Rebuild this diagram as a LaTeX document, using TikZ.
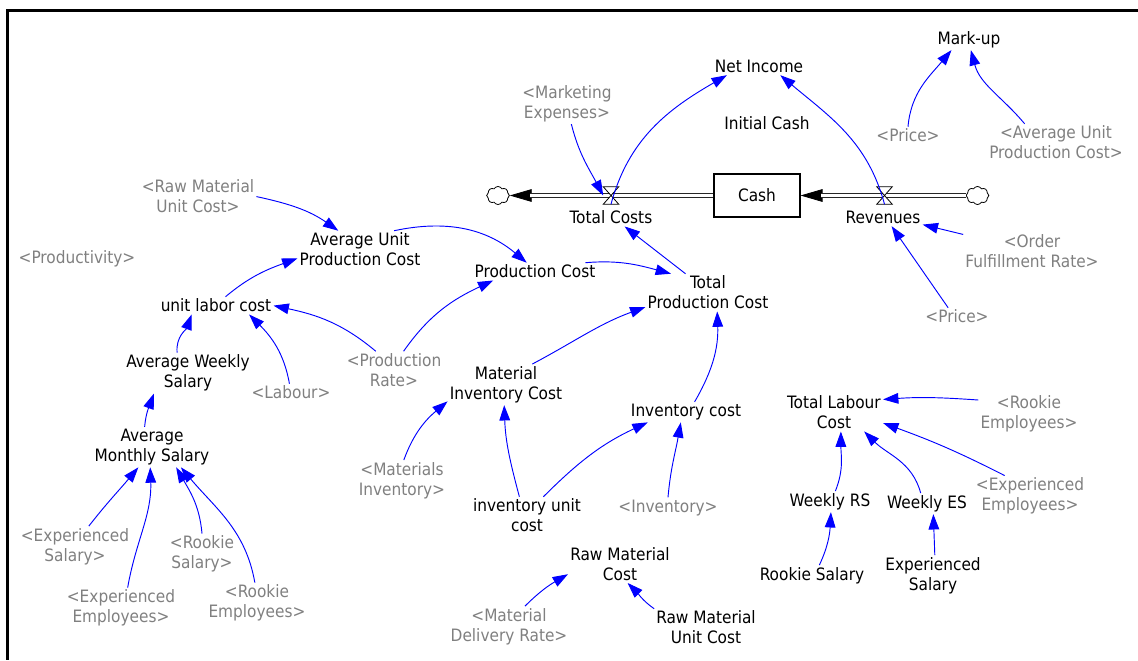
\documentclass[tikz,border=0pt]{standalone}
\usepackage{fontspec}
\IfFontExistsTF{DejaVu Sans Condensed}
  {\setmainfont{DejaVu Sans Condensed}}
  {\setmainfont{DejaVu Sans}[FakeStretch=0.9]}
\usetikzlibrary{arrows.meta,shapes.symbols}
\definecolor{linkblue}{RGB}{0,0,255}
\definecolor{shadowgray}{RGB}{128,128,128}
\begin{document}
\begin{tikzpicture}[x=0.75pt,y=0.75pt,
  every node/.style={font=\fontsize{12.8}{15}\selectfont, inner sep=1.5pt, align=center},
  var/.style={text=black, yshift=-1.2pt},
  ghost/.style={text=shadowgray, yshift=-1.2pt},
  stock/.style={draw, line width=0.8pt, minimum width=64.5pt, minimum height=32.25pt},
  valvebox/.style={inner sep=0pt, minimum width=11.25pt, minimum height=12.75pt},
  valveline/.style={draw=black, fill=white, line width=0.6pt, line join=miter},
  sourcecloud/.style={cloud, cloud puffs=8, cloud puff arc=120, aspect=1.25, draw, fill=white,
    line width=0.6pt, inner sep=0pt, minimum width=17pt, minimum height=13.5pt},
  pipe/.style={draw=black!85, line width=0.7pt, double=white, double distance=2.2pt},
  flowtip/.style={draw=black, line width=0.6pt, -{Triangle[length=16.5pt,width=9.5pt]}},
  conn/.style={draw=linkblue, line width=0.7pt, -{Triangle[length=11.5pt,width=8pt]}},
]
\useasboundingbox (0,0) rectangle (1138,-660);

% window frame (top and left edges)
\draw[line width=2.25pt] (1138,-10.7) -- (7.5,-10.7) -- (7.5,-660);

% ---------- stock and flows ----------
\node[stock] (cash) at (757,-195.5) {Cash};
\node[sourcecloud] (clL) at (498,-195.5) {};
\node[sourcecloud] (clR) at (977.5,-195.5) {};
\node[valvebox] (vl) at (611,-195.5) {};
\node[valvebox] (vr) at (884.5,-195.5) {};

\draw[flowtip] (cash.west) -- (clL.east);
\draw[pipe, shorten >=15pt] (cash.west) -- (clL.east);
\draw[flowtip] (clR.west) -- (cash.east);
\draw[pipe, shorten >=15pt] (clR.west) -- (cash.east);

\draw[valveline] (vl.north west) -- (vl.north east) -- (vl.south west) -- (vl.south east) -- cycle;
\draw[valveline] (vr.north west) -- (vr.north east) -- (vr.south west) -- (vr.south east) -- cycle;

\node[var] (tc) at (611,-216) {Total Costs};
\node[var] (rev) at (883,-216) {Revenues};

% ---------- variables ----------
\node[var] (markup) at (969,-38) {Mark-up};
\node[var] (netinc) at (759,-65) {Net Income};
\node[var] (initcash) at (767,-122) {Initial Cash};
\node[var] (aupc) at (360,-248) {Average Unit\\Production Cost};
\node[var] (pc) at (535,-270) {Production Cost};
\node[var] (tpc) at (708,-291) {Total\\Production Cost};
\node[var] (ulc) at (216,-304) {unit labor cost};
\node[var] (aws) at (188,-371.5) {Average Weekly\\Salary};
\node[var] (ams) at (152,-445.5) {Average\\Monthly Salary};
\node[var] (mic) at (506,-383) {Material\\Inventory Cost};
\node[var] (ic) at (686,-410.5) {Inventory cost};
\node[var] (iuc) at (527,-514) {inventory unit\\cost};
\node[var] (rmc) at (620,-562.5) {Raw Material\\Cost};
\node[var] (rmuc) at (706,-626) {Raw Material\\Unit Cost};
\node[var] (tlc) at (834,-411) {Total Labour\\Cost};
\node[var] (wrs) at (830,-500) {Weekly RS};
\node[var] (wes) at (927,-502) {Weekly ES};
\node[var] (rs) at (812,-574) {Rookie Salary};
\node[var] (es) at (933,-574) {Experienced\\Salary};

% ---------- shadow variables ----------
\node[ghost] (gMkt) at (567,-102) {<Marketing\\Expenses>};
\node[ghost] (gPriceA) at (908,-134) {<Price>};
\node[ghost] (gAupc) at (1056,-141) {<Average Unit\\Production Cost>};
\node[ghost] (gRmuc) at (198,-195) {<Raw Material\\Unit Cost>};
\node[ghost] (gProd) at (77,-257) {<Productivity>};
\node[ghost] (gPR) at (394,-368.5) {<Production\\Rate>};
\node[ghost] (gLab) at (291,-391) {<Labour>};
\node[ghost] (gOfr) at (1032,-250) {<Order\\Fulfillment Rate>};
\node[ghost] (gPriceB) at (957,-315) {<Price>};
\node[ghost] (gMI) at (402,-479) {<Materials\\Inventory>};
\node[ghost] (gInv) at (668,-506) {<Inventory>};
\node[ghost] (gMDR) at (509,-625) {<Material\\Delivery Rate>};
\node[ghost] (gRE2) at (1029,-412) {<Rookie\\Employees>};
\node[ghost] (gEE2) at (1030,-494.5) {<Experienced\\Employees>};
\node[ghost] (gES) at (75,-545) {<Experienced\\Salary>};
\node[ghost] (gEE1) at (121,-606.5) {<Experienced\\Employees>};
\node[ghost] (gRS) at (202,-552.5) {<Rookie\\Salary>};
\node[ghost] (gRE1) at (257,-601.5) {<Rookie\\Employees>};

% ---------- causal links ----------
\draw[conn] (gMkt.-78) to[out=-76,in=118] (vl.west);
\draw[conn] (vl.south) to[out=75,in=210] (netinc.195);
\draw[conn] (vr.south) to[out=105,in=-40] (netinc.-22);
\draw[conn] (gPriceA.north) to[out=85,in=230] (markup.211);
\draw[conn] (gAupc.149) to[out=130,in=-75] (markup.-80);
\draw[conn] (gRmuc.east) to[out=-12,in=145] (aupc.139);
\draw[conn] (aupc.29) to[out=12,in=140] (pc.133);
\draw[conn] (ulc.43) to[out=40,in=200] (aupc.188);
\draw[conn] (aws.118) to[out=95,in=250] (ulc.200);
\draw[conn] (gLab.100) to[out=100,in=-45] (ulc.-15);
\draw[conn] (gPR.134) to[out=140,in=-12] (ulc.east);
\draw[conn] (gPR.63) to[out=55,in=205] (pc.192);
\draw[conn] (pc.10) to[out=5,in=165] (tpc.153);
\draw[conn] (tpc.140) -- (tc.-33);
\draw[conn] (mic.38) to[out=28,in=200] (tpc.193);
\draw[conn] (ic.50) to[out=60,in=-88] (tpc.-64);
\draw[conn] (ams.110) to[out=85,in=250] (aws.211);
\draw[conn] (gES.56) to[out=52,in=230] (ams.236);
\draw[conn] (gEE1.72) to[out=80,in=-88] (ams.265);
\draw[conn] (gRS.north) to[out=95,in=-60] (ams.-40);
\draw[conn] (gRE1.96) to[out=100,in=-50] (ams.-35);
\draw[conn] (gMI.85) to[out=70,in=220] (mic.196);
\draw[conn] (iuc.112) to[out=105,in=-88] (mic.265);
\draw[conn] (iuc.49) to[out=45,in=205] (ic.195);
\draw[conn] (gInv.north) to[out=85,in=-100] (ic.243);
\draw[conn] (gMDR.52) to[out=45,in=210] (rmc.191);
\draw[conn] (rmuc.160) to[out=145,in=-45] (rmc.-68);
\draw[conn] (gRE2.165) to[out=176,in=4] (tlc.15);
\draw[conn] (gEE2.141) to[out=153,in=-20] (tlc.-12);
\draw[conn] (wrs.63) to[out=68,in=-90] (tlc.-70);
\draw[conn] (wes.121) to[out=105,in=-45] (tlc.-32);
\draw[conn] (rs.55) to[out=65,in=-93] (wrs.-85);
\draw[conn] (es.85) to[out=92,in=-88] (wes.-59);
\draw[conn] (gOfr.166) -- (rev.-10);
\draw[conn] (gPriceB.135) -- (rev.-45);
\end{tikzpicture}
\end{document}
